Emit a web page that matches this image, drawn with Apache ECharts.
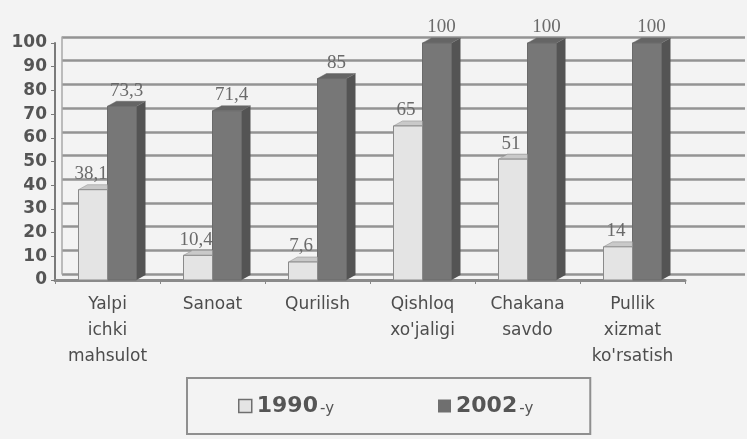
<!DOCTYPE html>
<html>
<head>
<meta charset="utf-8">
<script src="https://cdn.jsdelivr.net/npm/echarts@6/dist/echarts.min.js"></script>
<style>
  html, body { margin: 0; padding: 0; background: #f3f3f3; }
  #chart { width: 747px; height: 439px; }
</style>
</head>
<body>
<div id="chart"></div>
<script>
// data
const categories = [
  'Yalpi\nichki\nmahsulot',
  'Sanoat',
  'Qurilish',
  "Qishloq\nxo'jaligi",
  'Chakana\nsavdo',
  "Pullik\nxizmat\nko'rsatish"
];
const years = ['1990-y', '2002-y'];
const values1990 = [38.1, 10.4, 7.6, 65, 51, 14];
const values2002 = [73.3, 71.4, 85, 100, 100, 100];
const yTicks = { min: 0, max: 100, step: 10 };

// 3d look of the old excel chart
var BAR_W = 29, DX = 9, DY = -5;
var looks = [
  // light bar sits in front of the dark one's left edge, its side is hidden
  { front: '#e4e4e4', stroke: '#8a8a8a', top: '#c9c9c9', side: null, shift: -1, labelDx: -2 },
  { front: '#777777', stroke: '#6a6a6a', top: '#656565', side: '#545454', shift: 0, labelDx: DX / 2 }
];

function comma(v) {
  return String(v).replace('.', ',');
}

function bar3d(look) {
  return function (params, api) {
    var top = api.coord([api.value(0), api.value(1)]);
    var base = api.coord([api.value(0), 0]);
    var x0 = top[0] + look.shift * BAR_W;
    var yt = top[1], yb = base[1];
    var kids = [];
    if (look.side) {
      kids.push({ type: 'polygon',
        shape: { points: [[x0 + BAR_W, yt], [x0 + BAR_W + DX, yt + DY], [x0 + BAR_W + DX, yb + DY], [x0 + BAR_W, yb]] },
        style: { fill: look.side } });
      kids.push({ type: 'polygon',
        shape: { points: [[x0, yt], [x0 + DX, yt + DY], [x0 + BAR_W + DX, yt + DY], [x0 + BAR_W, yt]] },
        style: { fill: look.top, stroke: look.stroke, lineWidth: 0.5 } });
    } else {
      kids.push({ type: 'polygon',
        shape: { points: [[x0, yt], [x0 + DX, yt + DY], [x0 + BAR_W, yt + DY], [x0 + BAR_W, yt]] },
        style: { fill: look.top, stroke: look.stroke, lineWidth: 0.5 } });
    }
    kids.push({ type: 'rect', shape: { x: x0, y: yt, width: BAR_W, height: yb - yt },
      style: { fill: look.front, stroke: look.stroke, lineWidth: 1 } });
    kids.push({ type: 'text', z2: 10,
      style: { text: comma(api.value(1)), x: x0 + BAR_W / 2 + look.labelDx, y: yt + DY - 1,
               align: 'center', verticalAlign: 'bottom',
               font: '19px "Liberation Serif"', fill: '#6a6a6a' } });
    return { type: 'group', children: kids };
  };
}

var chart = echarts.init(document.getElementById('chart'));
chart.setOption({
  backgroundColor: '#f3f3f3',
  animation: false,
  grid: [
    // front: bars + axes
    { left: 55, right: 62, top: 43, bottom: 159 },
    // back wall of the 3d box, only grid lines
    { left: 62, right: 2, top: 37, bottom: 165 }
  ],
  legend: {
    data: [
      { name: years[0], itemStyle: { color: '#e4e4e4', borderColor: '#6f6f6f', borderWidth: 1.5 } },
      { name: years[1], itemStyle: { color: '#6f6f6f' } }
    ],
    icon: 'rect',
    left: 187,
    top: 378,
    padding: [17, 57, 17, 51],
    itemGap: 104,
    itemWidth: 13,
    itemHeight: 13,
    borderColor: '#8f8f8f',
    borderWidth: 2,
    formatter: function (name) {
      var parts = name.split('-');
      return '{a|' + parts[0] + '}{b|-' + parts[1] + '}';
    },
    textStyle: {
      rich: {
        a: { fontFamily: 'DejaVu Sans', fontWeight: 'bold', fontSize: 22, color: '#555' },
        b: { fontFamily: 'DejaVu Sans', fontSize: 15, color: '#555', padding: [6, 0, 0, 2] }
      }
    }
  },
  xAxis: [
    {
      type: 'category',
      gridIndex: 0,
      data: categories,
      axisLine: { lineStyle: { color: '#8a8a8a', width: 3 } },
      axisTick: { show: true, length: 4, lineStyle: { color: '#888' } },
      axisLabel: {
        fontFamily: 'DejaVu Sans',
        fontSize: 17,
        color: '#4d4d4d',
        lineHeight: 26,
        margin: 12,
        interval: 0
      }
    },
    {
      type: 'value',
      gridIndex: 1,
      show: false
    }
  ],
  yAxis: [
    {
      type: 'value',
      gridIndex: 0,
      min: yTicks.min,
      max: yTicks.max,
      interval: yTicks.step,
      axisLine: { show: true, lineStyle: { color: '#7a7a7a', width: 2 } },
      axisTick: { show: true, length: 4, lineStyle: { color: '#7a7a7a' } },
      splitLine: { show: false },
      axisLabel: {
        fontFamily: 'DejaVu Sans',
        fontWeight: 'bold',
        fontSize: 17,
        color: '#555',
        margin: 8
      }
    },
    {
      type: 'value',
      gridIndex: 1,
      min: yTicks.min,
      max: yTicks.max,
      interval: yTicks.step,
      axisLine: { show: true, lineStyle: { color: '#a8a8a8', width: 1.5 } },
      axisTick: { show: false },
      axisLabel: { show: false },
      splitLine: { show: true, lineStyle: { color: '#939393', width: 2.5 } }
    }
  ],
  series: [
    {
      name: years[0],
      type: 'custom',
      z: 3,
      xAxisIndex: 0,
      yAxisIndex: 0,
      itemStyle: { color: '#e4e4e4' },
      encode: { x: 0, y: 1 },
      data: values1990.map(function (v, i) { return [i, v]; }),
      renderItem: bar3d(looks[0])
    },
    {
      name: years[1],
      type: 'custom',
      z: 2,
      xAxisIndex: 0,
      yAxisIndex: 0,
      itemStyle: { color: '#6f6f6f' },
      encode: { x: 0, y: 1 },
      data: values2002.map(function (v, i) { return [i, v]; }),
      renderItem: bar3d(looks[1])
    }
  ]
});
</script>
</body>
</html>
